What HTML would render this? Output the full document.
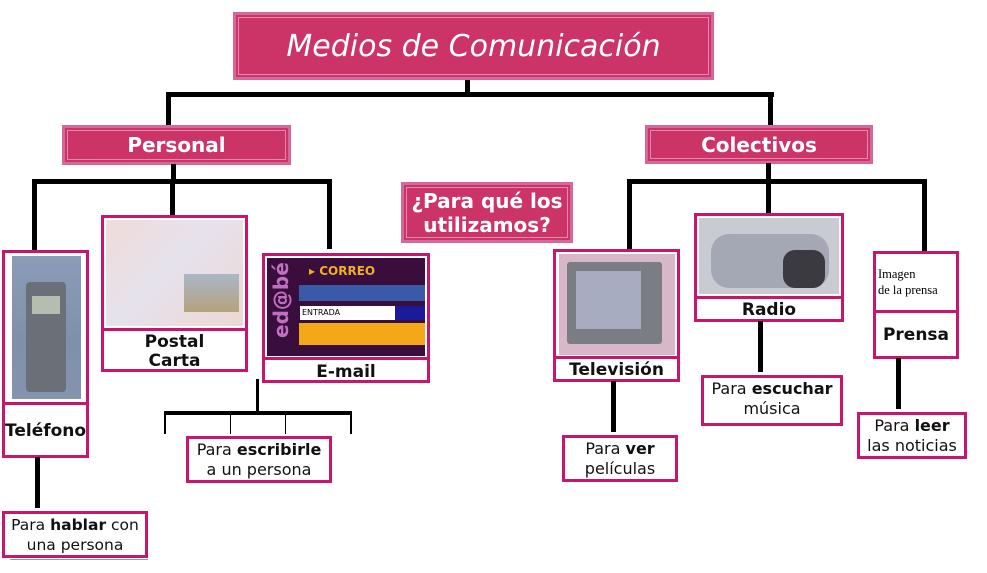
<!DOCTYPE html>
<html><head><meta charset="utf-8"><style>
*{margin:0;padding:0;box-sizing:border-box}
body{width:987px;height:573px;background:#fff;position:relative;overflow:hidden;font-family:"DejaVu Sans","Liberation Sans",sans-serif}
.a{position:absolute}
.l{position:absolute;background:#000}
.h{position:absolute;background:#cc3366;border:3px solid #d4689a;color:#fff;font-weight:bold;text-align:center;display:flex;align-items:center;justify-content:center}
.h::after{content:"";position:absolute;left:2px;top:2px;right:2px;bottom:2px;border:1px solid #e48ab0}
.b{position:absolute;border:3px solid #c8166e;background:#fff}
.t{position:absolute;border:3px solid #c8166e;background:#fff;text-align:center;font-size:16px;line-height:20px;color:#111;padding-top:1px;white-space:nowrap}
.lab{position:absolute;left:0;right:0;text-align:center;font-weight:bold;font-size:17px;color:#111;border-top:3px solid #c8166e}
</style></head><body>
<div class="h" style="left:233px;top:12px;width:481px;height:68px;font-weight:normal;font-style:italic;font-size:30px">Medios de Comunicación</div>
<div class="l" style="left:465px;top:80px;width:5px;height:16px"></div>
<div class="l" style="left:166px;top:92px;width:608px;height:5px"></div>
<div class="l" style="left:166px;top:92px;width:5px;height:34px"></div>
<div class="l" style="left:768px;top:92px;width:5px;height:34px"></div>
<div class="h" style="left:62px;top:125px;width:229px;height:40px;font-size:20px">Personal</div>
<div class="h" style="left:645px;top:125px;width:228px;height:39px;font-size:20px">Colectivos</div>
<div class="h" style="left:401px;top:182px;width:172px;height:61px;font-size:20px;line-height:24px">¿Para qué los<br>utilizamos?</div>
<!-- personal branch -->
<div class="l" style="left:171px;top:164px;width:5px;height:18px"></div>
<div class="l" style="left:32px;top:179px;width:300px;height:5px"></div>
<div class="l" style="left:32px;top:179px;width:5px;height:72px"></div>
<div class="l" style="left:170px;top:179px;width:5px;height:37px"></div>
<div class="l" style="left:327px;top:179px;width:5px;height:70px"></div>
<!-- colectivos branch -->
<div class="l" style="left:766px;top:163px;width:5px;height:19px"></div>
<div class="l" style="left:627px;top:179px;width:300px;height:5px"></div>
<div class="l" style="left:627px;top:179px;width:5px;height:71px"></div>
<div class="l" style="left:766px;top:179px;width:5px;height:35px"></div>
<div class="l" style="left:922px;top:179px;width:5px;height:73px"></div>
<!-- Telefono -->
<div class="b" style="left:2px;top:250px;width:87px;height:208px">
 <div class="a" style="left:7px;top:3px;width:69px;height:143px;background:linear-gradient(180deg,#8a9cb8,#7f90ab 60%,#8494ae)"><div class="a" style="left:14px;top:26px;width:40px;height:110px;background:#6a6f78;border-radius:4px"></div><div class="a" style="left:20px;top:40px;width:28px;height:18px;background:#b5bcb0"></div></div>
 <div class="lab" style="top:149px;height:56px;line-height:52px;font-size:17px">Teléfono</div>
</div>
<div class="l" style="left:35px;top:457px;width:5px;height:51px"></div>
<div class="t" style="left:2px;top:511px;width:146px;height:47px;font-size:15.5px">Para <b>hablar</b> con<br>una persona</div>
<div class="a" style="left:10px;top:559px;width:138px;height:1px;background:#999"></div>
<!-- Postal -->
<div class="b" style="left:101px;top:215px;width:147px;height:157px">
 <div class="a" style="left:2px;top:2px;width:137px;height:106px;background:linear-gradient(135deg,#f0dcd8,#e6e2ec 45%,#ecd8d4)"><div class="a" style="left:78px;top:54px;width:55px;height:38px;background:linear-gradient(180deg,#a9b7c6,#b5a27e)"></div></div>
 <div class="lab" style="top:110px;line-height:19px;padding-top:2px">Postal<br>Carta</div>
</div>
<!-- Email -->
<div class="b" style="left:262px;top:253px;width:168px;height:130px">
 <div class="a" style="left:2px;top:2px;width:158px;height:98px;background:#3a0e3c">
  <div class="a" style="left:32px;top:0;width:126px;height:26px;color:#f0b020;font-size:12px;font-weight:bold;padding:6px 0 0 10px">▸ CORREO</div>
  <div class="a" style="left:32px;top:27px;width:126px;height:16px;background:#3a5aa8"></div>
  <div class="a" style="left:33px;top:48px;width:95px;height:14px;background:#fff;font-size:8px;color:#000;padding-left:2px;line-height:14px">ENTRADA</div>
  <div class="a" style="left:128px;top:48px;width:30px;height:14px;background:#1a1a9a"></div>
  <div class="a" style="left:32px;top:65px;width:126px;height:22px;background:#f4a818"></div>
  <div class="a" style="left:2px;color:#c070c0;font-size:20px;font-weight:bold;transform:rotate(-90deg);transform-origin:left top;top:80px">ed@bé</div>
 </div>
 <div class="lab" style="top:101px;line-height:24px">E-mail</div>
</div>
<div class="l" style="left:256px;top:379px;width:3px;height:34px"></div>
<div class="l" style="left:164px;top:411px;width:188px;height:4px"></div>
<div class="l" style="left:164px;top:411px;width:2px;height:23px"></div>
<div class="l" style="left:230px;top:411px;width:1px;height:23px"></div>
<div class="l" style="left:285px;top:411px;width:1px;height:23px"></div>
<div class="l" style="left:350px;top:411px;width:2px;height:23px"></div>
<div class="t" style="left:186px;top:436px;width:146px;height:47px">Para <b>escribirle</b><br>a un persona</div>
<!-- Television -->
<div class="b" style="left:553px;top:249px;width:127px;height:133px">
 <div class="a" style="left:3px;top:2px;width:116px;height:101px;background:#d8b8c8"><div class="a" style="left:8px;top:8px;width:95px;height:82px;background:#7a7e84;border-radius:3px"></div><div class="a" style="left:17px;top:17px;width:65px;height:58px;background:#a8acc0"></div></div>
 <div class="lab" style="top:104px;line-height:22px">Televisión</div>
</div>
<div class="l" style="left:611px;top:381px;width:5px;height:51px"></div>
<div class="t" style="left:562px;top:435px;width:116px;height:47px">Para <b>ver</b><br>películas</div>
<!-- Radio -->
<div class="b" style="left:694px;top:213px;width:150px;height:109px">
 <div class="a" style="left:2px;top:2px;width:140px;height:76px;background:#c8ccd2"><div class="a" style="left:12px;top:16px;width:118px;height:54px;background:#a4a8b4;border-radius:18px"></div><div class="a" style="left:84px;top:32px;width:42px;height:38px;background:#3a3a40;border-radius:12px"></div></div>
 <div class="lab" style="top:80px;line-height:22px">Radio</div>
</div>
<div class="l" style="left:758px;top:321px;width:5px;height:51px"></div>
<div class="t" style="left:701px;top:375px;width:142px;height:51px">Para <b>escuchar</b><br>música</div>
<!-- Prensa -->
<div class="b" style="left:873px;top:251px;width:86px;height:108px">
 <div class="a" style="left:2px;top:12px;font-family:'Liberation Serif',serif;font-size:12.5px;line-height:16px;color:#000;white-space:nowrap">Imagen<br>de la prensa</div>
 <div class="lab" style="top:56px;line-height:44px;font-size:17px">Prensa</div>
</div>
<div class="l" style="left:896px;top:358px;width:5px;height:51px"></div>
<div class="t" style="left:857px;top:412px;width:110px;height:47px">Para <b>leer</b><br>las noticias</div>
</body></html>
